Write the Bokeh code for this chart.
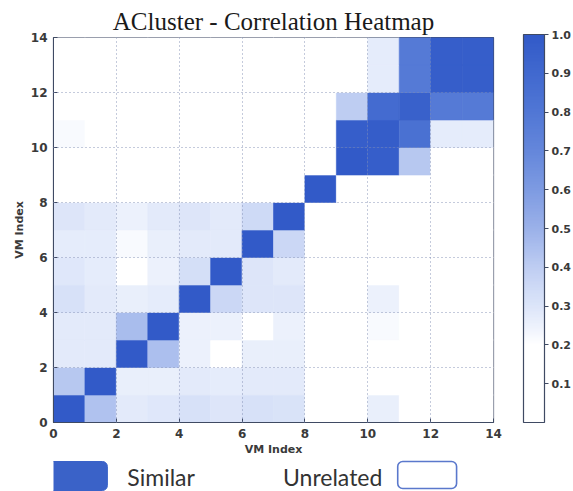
from bokeh.plotting import figure
from bokeh.models import (LinearColorMapper, ColorBar, FixedTicker, Range1d,
                          BoxAnnotation, Label, PrintfTickFormatter, ColumnDataSource)
from bokeh.transform import transform
from bokeh.layouts import column
from bokeh.embed import file_html
from bokeh.resources import INLINE

# ---- data: pairwise correlation between 14 VMs (row = y index, col = x index)
vm_index = [0, 1, 2, 3, 4, 5, 6, 7, 8, 9, 10, 11, 12, 13]
row_00 = [1.00, 0.44, 0.28, 0.29, 0.32, 0.30, 0.32, 0.31, 0.16, 0.14, 0.26, 0.18, 0.12, 0.12]
row_01 = [0.42, 1.00, 0.26, 0.26, 0.28, 0.27, 0.28, 0.28, 0.14, 0.12, 0.18, 0.12, 0.10, 0.10]
row_02 = [0.28, 0.28, 1.00, 0.45, 0.25, 0.20, 0.26, 0.26, 0.14, 0.12, 0.17, 0.12, 0.10, 0.10]
row_03 = [0.28, 0.28, 0.46, 1.00, 0.25, 0.25, 0.20, 0.25, 0.14, 0.12, 0.22, 0.12, 0.10, 0.10]
row_04 = [0.32, 0.28, 0.26, 0.27, 1.00, 0.36, 0.30, 0.30, 0.14, 0.12, 0.25, 0.12, 0.10, 0.10]
row_05 = [0.29, 0.27, 0.18, 0.25, 0.33, 1.00, 0.30, 0.28, 0.14, 0.12, 0.16, 0.12, 0.10, 0.10]
row_06 = [0.27, 0.27, 0.22, 0.26, 0.28, 0.28, 1.00, 0.36, 0.14, 0.12, 0.14, 0.12, 0.10, 0.10]
row_07 = [0.30, 0.28, 0.25, 0.28, 0.30, 0.28, 0.35, 1.00, 0.14, 0.12, 0.14, 0.12, 0.10, 0.10]
row_08 = [0.12, 0.12, 0.10, 0.10, 0.10, 0.10, 0.10, 0.10, 1.00, 0.10, 0.10, 0.10, 0.10, 0.10]
row_09 = [0.14, 0.12, 0.10, 0.10, 0.10, 0.10, 0.10, 0.10, 0.10, 1.00, 0.97, 0.42, 0.12, 0.12]
row_10 = [0.22, 0.14, 0.10, 0.10, 0.10, 0.10, 0.12, 0.10, 0.10, 0.97, 0.98, 0.84, 0.27, 0.27]
row_11 = [0.12, 0.10, 0.10, 0.10, 0.10, 0.10, 0.10, 0.10, 0.10, 0.40, 0.88, 0.95, 0.78, 0.78]
row_12 = [0.10, 0.10, 0.10, 0.10, 0.10, 0.10, 0.10, 0.10, 0.10, 0.12, 0.27, 0.78, 0.97, 0.97]
row_13 = [0.10, 0.10, 0.10, 0.10, 0.10, 0.10, 0.10, 0.10, 0.10, 0.12, 0.27, 0.78, 0.97, 0.97]
corr_rows = [row_00, row_01, row_02, row_03, row_04, row_05, row_06, row_07,
             row_08, row_09, row_10, row_11, row_12, row_13]

axis_ticks = [0, 2, 4, 6, 8, 10, 12, 14]
cbar_ticks = [0.1, 0.2, 0.3, 0.4, 0.5, 0.6, 0.7, 0.8, 0.9, 1.0]

# ---- white-to-blue palette
anchors = [(0.00, (255, 255, 255)), (0.20, (255, 255, 255)), (0.25, (236, 241, 252)),
           (0.30, (220, 229, 249)), (0.35, (206, 218, 246)), (0.40, (190, 205, 242)),
           (0.45, (172, 191, 238)), (0.50, (155, 177, 233)), (0.60, (126, 155, 226)),
           (0.70, (101, 135, 219)), (0.80, (81, 119, 213)), (0.90, (65, 105, 207)),
           (1.00, (50, 90, 200))]


def lerp_color(t):
    for (t0, c0), (t1, c1) in zip(anchors[:-1], anchors[1:]):
        if t <= t1:
            f = (t - t0) / (t1 - t0) if t1 > t0 else 0
            return "#%02x%02x%02x" % tuple(round(a + (b - a) * f) for a, b in zip(c0, c1))
    return "#%02x%02x%02x" % anchors[-1][1]


palette = [lerp_color(i / 255) for i in range(256)]
mapper = LinearColorMapper(palette=palette, low=0.0, high=1.0)

xs, ys, vals = [], [], []
for r, row in zip(vm_index, corr_rows):
    for c, v in zip(vm_index, row):
        xs.append(c + 0.5)
        ys.append(r + 0.5)
        vals.append(v)
src = ColumnDataSource(data=dict(x=xs, y=ys, val=vals))

TXT = "#3a3a3a"
FRAME = "#3f4a63"
LEFT, RIGHT = 53, 79

p = figure(width=573, height=458, x_range=Range1d(0, 14), y_range=Range1d(0, 14),
           output_backend="svg", toolbar_location=None,
           min_border_left=LEFT, min_border_right=RIGHT, min_border_top=37, min_border_bottom=34)
p.title.text = "ACluster - Correlation Heatmap"
p.title.align = "center"
p.title.text_font = "Liberation Serif"
p.title.text_font_size = "25px"
p.title.text_font_style = "normal"
p.title.text_color = "#1a1a1a"
p.title.standoff = 6

p.rect(x="x", y="y", width=1, height=1, source=src,
       fill_color=transform("val", mapper), line_color=transform("val", mapper),
       line_width=0.6)

for ax in (p.xaxis[0], p.yaxis[0]):
    ax.ticker = FixedTicker(ticks=axis_ticks)
    ax.axis_label = "VM Index"
    ax.axis_label_text_font = "DejaVu Sans"
    ax.axis_label_text_font_size = "11px"
    ax.axis_label_text_font_style = "bold"
    ax.axis_label_text_color = TXT
    ax.axis_label_standoff = 2
    ax.major_label_text_font = "DejaVu Sans"
    ax.major_label_text_font_size = "12px"
    ax.major_label_text_font_style = "bold"
    ax.major_label_text_color = TXT
    ax.major_label_standoff = 6
    ax.major_tick_in = 4
    ax.major_tick_out = 0
    ax.minor_tick_line_color = None
    ax.major_tick_line_color = FRAME
    ax.axis_line_color = FRAME

for g in (p.xgrid[0], p.ygrid[0]):
    g.grid_line_color = "#7f8db3"
    g.grid_line_dash = "1 3"
    g.grid_line_width = 1
    g.grid_line_alpha = 0.9
    g.level = "guide"

p.outline_line_color = FRAME
p.outline_line_width = 1.2
p.background_fill_color = "white"
p.border_fill_color = "white"

cb = ColorBar(color_mapper=mapper, ticker=FixedTicker(ticks=cbar_ticks),
              formatter=PrintfTickFormatter(format="%.1f"),
              width=21, height=388, padding=0, margin=0, location=(30, 0),
              bar_line_color=FRAME, bar_line_width=1.2,
              major_tick_in=0, major_tick_out=4, major_tick_line_color=FRAME,
              minor_tick_line_color=None,
              major_label_text_font="DejaVu Sans", major_label_text_font_size="11px",
              major_label_text_font_style="bold",
              major_label_text_color=TXT, label_standoff=3,
              border_line_color=None, background_fill_color=None)
p.add_layout(cb, "right")

# ---- legend strip (x in page pixels; frame spans LEFT .. 573-RIGHT)
lg = figure(width=573, height=33, x_range=Range1d(LEFT, 573 - RIGHT), y_range=Range1d(0, 33),
            output_backend="svg", toolbar_location=None,
            min_border_left=LEFT, min_border_right=RIGHT, min_border_top=0, min_border_bottom=0)
lg.axis.visible = False
lg.grid.visible = False
lg.outline_line_color = None
lg.border_fill_color = "white"
lg.add_layout(BoxAnnotation(left=47, right=107, bottom=1, top=30,
                            fill_color="#3a62c8", fill_alpha=1,
                            line_color="#3a62c8", line_alpha=1, border_radius=5))
lg.add_layout(BoxAnnotation(left=398, right=457, bottom=3, top=30,
                            fill_color="white", fill_alpha=1,
                            line_color="#5a78cc", line_alpha=1, line_width=1.6,
                            border_radius=5))
lg.add_layout(Label(x=127, y=15, text="Similar", text_font="Lato", text_font_size="23px",
                    text_color="#333333", text_baseline="middle"))
lg.add_layout(Label(x=283, y=15, text="Unrelated", text_font="Lato", text_font_size="23px",
                    text_color="#333333", text_baseline="middle"))

layout = column(p, lg, spacing=0)
open("out.html", "w").write(file_html(layout, INLINE))
